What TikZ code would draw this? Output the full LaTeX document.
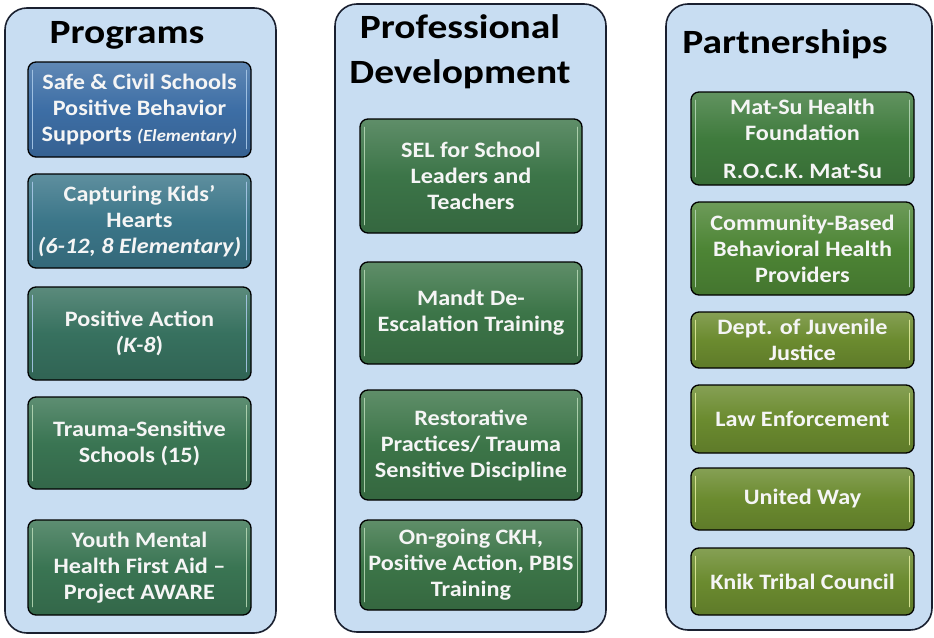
\documentclass[tikz,border=0pt]{standalone}
\usepackage{fontspec}
\setmainfont{Carlito}[FakeStretch=1.1]
\newfontfamily\headfont{Carlito}[FakeStretch=1.16]
\definecolor{panelfill}{HTML}{C8DDF2}
\definecolor{paneledge}{HTML}{1A2030}
\definecolor{cBlue}{HTML}{3D6EA5}
\definecolor{cTeal}{HTML}{3B7689}
\definecolor{cSea}{HTML}{37715F}
\definecolor{cGreen}{HTML}{3A7553}
\definecolor{cPD}{HTML}{3C7548}
\definecolor{cLeaf}{HTML}{3F7B3D}
\definecolor{cGrass}{HTML}{4D8535}
\definecolor{cOlive}{HTML}{6B8B2F}
\definecolor{hlBlue}{HTML}{A8C8E8}
\definecolor{hlGreen}{HTML}{B4D6B4}
\definecolor{hlOlive}{HTML}{E0EB9A}
\tikzset{
  panel/.style={draw=paneledge, line width=1.6pt, fill=panelfill, rounded corners=22pt},
  title/.style={font=\headfont\fontsize{34}{45}\selectfont\bfseries, text=black, inner sep=0pt, anchor=base},
  item/.style={draw=black, line width=1.3pt, rounded corners=8pt,
    top color=#1!82!white, bottom color=#1!88!black, middle color=#1,
    text=white!96!black, align=center, inner sep=2pt,
    font=\fontsize{22}{26}\selectfont\bfseries},
  gleam/.style={draw=#1, line width=1.4pt, line cap=round, opacity=0.9}
}
% \itembox{name}{cx}{cy}{width}{height}{colour}{highlight}{text}
\newcommand\itembox[8]{%
  \node[item=#6, minimum width=#4pt, minimum height=#5pt] (#1) at (#2,#3) {#8};
  \draw[gleam=#7] ([xshift=5pt,yshift=-9pt]#1.north west) -- ([xshift=5pt,yshift=9pt]#1.south west);
  \draw[gleam=#7] ([xshift=-5pt,yshift=-9pt]#1.north east) -- ([xshift=-5pt,yshift=9pt]#1.south east);
}
\begin{document}
\begin{tikzpicture}[x=1pt,y=-1pt]
\useasboundingbox (0,0) rectangle (934,637);
\fill[white] (0,0) rectangle (934,637);

% Programs column
\draw[panel] (5,8) rectangle (276,633);
\node[title] (tProg) at (127,43) {Programs};
\itembox{p1}{139.5}{109.5}{223}{95}{cBlue}{hlBlue}{Safe \& Civil Schools\\Positive Behavior\\Supports {\fontsize{17}{18}\selectfont\itshape (Elementary)}}
\itembox{p2}{139.5}{221}{223}{94}{cTeal}{hlBlue}{Capturing Kids’\\Hearts\\{\itshape (6-12, 8 Elementary)}}
\itembox{p3}{139.5}{333.5}{223}{93}{cSea}{hlBlue}{Positive Action\\{\itshape (K-8})}
\itembox{p4}{139.5}{443}{223}{92}{cGreen}{hlGreen}{Trauma-Sensitive\\Schools (15)}
\itembox{p5}{139.5}{567.5}{223}{95}{cGreen}{hlGreen}{Youth Mental\\Health First Aid –\\Project AWARE}

% Professional Development column
\draw[panel] (335,4) rectangle (606,632);
\node[title] (tPD1) at (460,38) {Professional};
\node[title] (tPD2) at (460,83) {Development};
\itembox{d1}{471}{176}{222}{114}{cPD}{hlGreen}{SEL for School\\Leaders and\\Teachers}
\itembox{d2}{471}{313}{222}{102}{cPD}{hlGreen}{Mandt De-\\Escalation Training}
\itembox{d3}{471}{445}{222}{110}{cPD}{hlGreen}{Restorative\\Practices/ Trauma\\Sensitive Discipline}
\itembox{d4}{471}{565}{222}{90}{cPD}{hlGreen}{On-going CKH,\\Positive Action, PBIS\\Training}

% Partnerships column
\draw[panel] (666,4) rectangle (932,630);
\node[title] (tPart) at (785,53) {Partnerships};
\itembox{r1}{802.5}{138.5}{223}{93}{cLeaf}{hlGreen}{Mat-Su Health\\Foundation\\[12pt]R.O.C.K. Mat-Su}
\itembox{r2}{802.5}{248.5}{223}{93}{cGrass}{hlGreen}{Community-Based\\Behavioral Health\\Providers}
\itembox{r3}{802.5}{340}{223}{56}{cOlive}{hlOlive}{Dept. of Juvenile\\Justice}
\itembox{r4}{802.5}{419}{223}{68}{cOlive}{hlOlive}{Law Enforcement}
\itembox{r5}{802.5}{499}{223}{62}{cOlive}{hlOlive}{United Way}
\itembox{r6}{802.5}{581.5}{223}{67}{cOlive}{hlOlive}{Knik Tribal Council}
\end{tikzpicture}
\end{document}
